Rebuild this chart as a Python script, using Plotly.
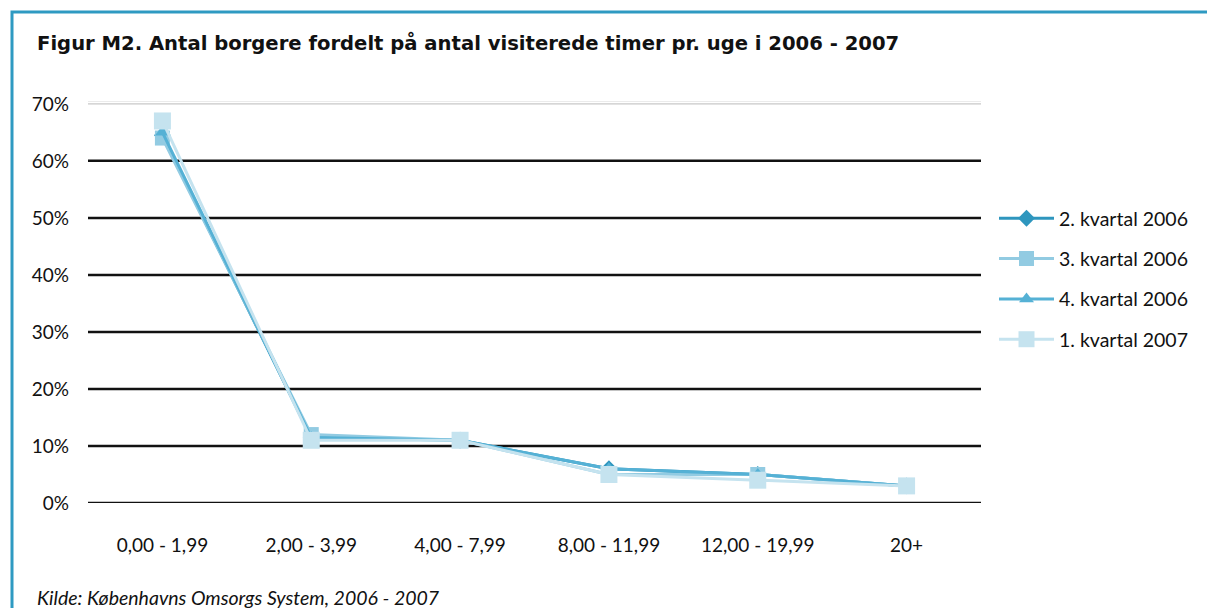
import plotly.graph_objects as go

categories = ["0,00 - 1,99", "2,00 - 3,99", "4,00 - 7,99", "8,00 - 11,99", "12,00 - 19,99", "20+"]
series_names = ["2. kvartal 2006", "3. kvartal 2006", "4. kvartal 2006", "1. kvartal 2007"]
q2_2006 = [64.5, 11.5, 11.0, 6.0, 5.0, 3.0]
q3_2006 = [64.0, 12.0, 11.0, 5.0, 5.0, 3.0]
q4_2006 = [65.0, 11.5, 11.0, 6.0, 5.0, 3.0]
q1_2007 = [67.0, 11.0, 11.0, 5.0, 4.0, 3.0]
y_ticks = [0, 10, 20, 30, 40, 50, 60, 70]
y_tick_labels = ["0%", "10%", "20%", "30%", "40%", "50%", "60%", "70%"]

title_text = "Figur M2. Antal borgere fordelt på antal visiterede timer pr. uge i 2006 - 2007"
source_text = "Kilde: Københavns Omsorgs System, 2006 - 2007"

styles = [
    dict(color="#2E96BE", symbol="diamond", size=13),
    dict(color="#92CBE2", symbol="square", size=15),
    dict(color="#55B1D5", symbol="triangle-up", size=13),
    dict(color="#C5E3EF", symbol="square", size=17),
]
all_series = [q2_2006, q3_2006, q4_2006, q1_2007]

FONT = "Lato"
fig = go.Figure()
for i, (name, vals, st) in enumerate(zip(series_names, all_series, styles)):
    fig.add_trace(go.Scatter(
        x=categories, y=vals, name=name, mode="lines+markers",
        line=dict(color=st["color"], width=3),
        marker=dict(color=st["color"], symbol=st["symbol"], size=st["size"], line=dict(width=0)),
        legendgroup=f"g{i}",
    ))

shapes = []
for v in y_ticks[:-1]:
    shapes.append(dict(type="line", xref="paper", yref="y", x0=0, x1=1, y0=v, y1=v,
                       line=dict(color="#111111", width=2.5), layer="below"))
# top gridline (double grey)
shapes.append(dict(type="line", xref="paper", yref="y", x0=0, x1=1, y0=70, y1=70,
                   line=dict(color="#C8C8C8", width=1.2), layer="below"))
shapes.append(dict(type="line", xref="paper", yref="y", x0=0, x1=1, y0=70.5, y1=70.5,
                   line=dict(color="#D8D8D8", width=1.2), layer="below"))
# outer frame
L, T, R, B = 88, 101, 981, 503
W, H = R - L, B - T
def px_x(p): return (p - L) / W
def px_y(p): return (B - p) / H
shapes.append(dict(type="rect", xref="paper", yref="paper",
                   x0=px_x(12), x1=px_x(1240), y0=px_y(640), y1=px_y(12),
                   line=dict(color="#2E9AC2", width=3), fillcolor="rgba(0,0,0,0)", layer="below"))

annotations = [
    dict(text="<b>" + title_text + "</b>", xref="paper", yref="paper", x=px_x(35), y=px_y(43),
         xanchor="left", yanchor="middle", showarrow=False,
         font=dict(family="DejaVu Sans", size=19.6, color="#111111")),
    dict(text="<i>" + source_text + "</i>", xref="paper", yref="paper", x=px_x(35), y=px_y(597),
         xanchor="left", yanchor="middle", showarrow=False, font=dict(family=FONT, size=19.5, color="#111111")),
]

fig.update_layout(
    width=1207, height=608,
    margin=dict(l=L, r=1207 - R, t=T, b=608 - B, pad=0),
    paper_bgcolor="white", plot_bgcolor="white",
    font=dict(family=FONT, size=19, color="#111111"),
    shapes=shapes, annotations=annotations,
    showlegend=True,
    legend=dict(x=px_x(994), y=px_y(199), xanchor="left", yanchor="top",
                font=dict(family=FONT, size=19.5, color="#111111"),
                tracegroupgap=12, itemwidth=55, bgcolor="rgba(0,0,0,0)"),
    xaxis=dict(type="category", range=[-0.5, 5.5], showgrid=False, zeroline=False, showline=False,
               ticks="", tickfont=dict(size=19), automargin=False, ticklabelstandoff=29),
    yaxis=dict(range=[0, 70.5], tickvals=y_ticks, ticktext=y_tick_labels, showgrid=False, zeroline=False,
               showline=False, ticks="", ticklabelstandoff=18, tickfont=dict(size=19), automargin=False),
)

fig.write_html("out.html", config={"displayModeBar": False},
               post_script="document.body.style.margin='0';")
